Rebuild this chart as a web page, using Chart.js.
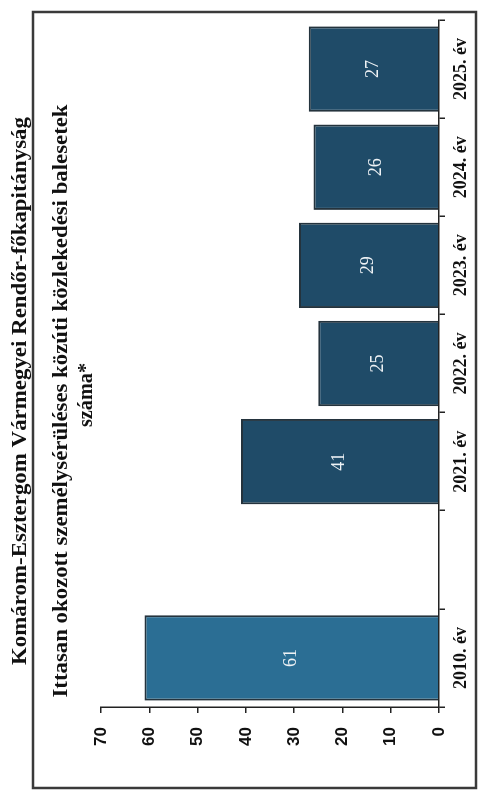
<!DOCTYPE html>
<html>
<head>
<meta charset="utf-8">
<script src="https://cdn.jsdelivr.net/npm/chart.js"></script>
<style>
  html, body { margin: 0; padding: 0; background: #fff; }
  body { width: 478px; height: 792px; overflow: hidden; position: relative; }
  /* the chart is drawn landscape and turned a quarter to the left, like the scan */
  #wrap {
    position: absolute; left: 0; top: 0;
    width: 792px; height: 478px;
    transform-origin: 0 0;
    transform: translate(0, 792px) rotate(-90deg);
  }
</style>
</head>
<body>
<div id="wrap"><canvas id="c" width="792" height="478"></canvas></div>
<script>
// ---- data ----
const categories = ['2010. év', '', '2021. év', '2022. év', '2023. év', '2024. év', '2025. év'];
const balesetek  = [61, null, 41, 25, 29, 26, 27];
const barColors  = ['#2b6e94', '#1f4b68', '#1f4b68', '#1f4b68', '#1f4b68', '#1f4b68', '#1f4b68'];
const yMax = 70;
const yStep = 10;

const title1 = 'Komárom-Esztergom Vármegyei Rendőr-főkapitányság';
const title2 = ['Ittasan okozott személysérüléses közúti közlekedési balesetek', 'száma*'];

const SERIF = "'Liberation Serif', 'Times New Roman', serif";

// keret + címek
const framePlugin = {
  id: 'frame',
  beforeDraw(chart) {
    const ctx = chart.ctx;
    ctx.save();
    ctx.fillStyle = '#fff';
    ctx.fillRect(0, 0, chart.width, chart.height);
    ctx.strokeStyle = '#3a3a3a';
    ctx.lineWidth = 2.5;
    ctx.strokeRect(4, 33, 776, 443);
    ctx.restore();
  },
  afterDraw(chart) {
    const ctx = chart.ctx;
    // szöveg kirajzolása adott szélességre nyújtva (a szken torzítását követi)
    function drawFit(text, cx, cy, size, width) {
      ctx.save();
      ctx.font = 'bold ' + size + 'px ' + SERIF;
      const w = ctx.measureText(text).width;
      const sx = width ? width / w : 1;
      ctx.translate(cx, cy);
      ctx.scale(sx, 1);
      ctx.fillStyle = '#111';
      ctx.textAlign = 'center';
      ctx.textBaseline = 'middle';
      ctx.fillText(text, 0, 0);
      ctx.restore();
    }
    drawFit(title1, 401, 21, 21, 548);
    drawFit(title2[0], 391, 62, 20, 593);
    drawFit(title2[1], 397, 87, 20, 64);
  }
};

// értékek a hasábokban
const valuePlugin = {
  id: 'values',
  afterDatasetsDraw(chart) {
    const ctx = chart.ctx;
    const meta = chart.getDatasetMeta(0);
    ctx.save();
    ctx.font = '18px ' + SERIF;
    ctx.fillStyle = '#eef2f5';
    ctx.textAlign = 'center';
    ctx.textBaseline = 'middle';
    meta.data.forEach((bar, i) => {
      const v = balesetek[i];
      if (v == null) return;
      ctx.fillText(String(v), bar.x, (bar.y + bar.base) / 2);
    });
    ctx.restore();
  }
};

new Chart(document.getElementById('c'), {
  type: 'bar',
  data: {
    labels: categories,
    datasets: [{
      data: balesetek,
      backgroundColor: barColors,
      borderColor: '#24333d',
      borderWidth: 2,
      borderSkipped: 'bottom',
      barPercentage: 0.87,
      categoryPercentage: 1.0
    }]
  },
  options: {
    responsive: false,
    animation: false,
    layout: { padding: { top: 101, right: 20, bottom: 2, left: 0 } },
    plugins: {
      legend: { display: false },
      title: { display: false },
      tooltip: { enabled: false }
    },
    scales: {
      x: {
        grid: { drawOnChartArea: false, tickLength: 6, color: '#222', lineWidth: 1.5 },
        border: { color: '#222', width: 1.5 },
        ticks: {
          color: '#111',
          padding: 6,
          font: { family: SERIF, weight: 'bold', size: 18 }
        },
        afterFit(scale) { scale.height = 37; }
      },
      y: {
        min: 0,
        max: yMax,
        grid: { drawOnChartArea: false, tickLength: 6, color: '#222', lineWidth: 1.5 },
        border: { color: '#222', width: 1.5 },
        ticks: {
          stepSize: yStep,
          color: '#111',
          padding: 14,
          font: { family: "'Liberation Sans Narrow', 'Arial Narrow', 'Liberation Sans', sans-serif", weight: 'bold', size: 17 }
        },
        afterFit(scale) { scale.width = 85; }
      }
    }
  },
  plugins: [framePlugin, valuePlugin]
});
</script>
</body>
</html>
